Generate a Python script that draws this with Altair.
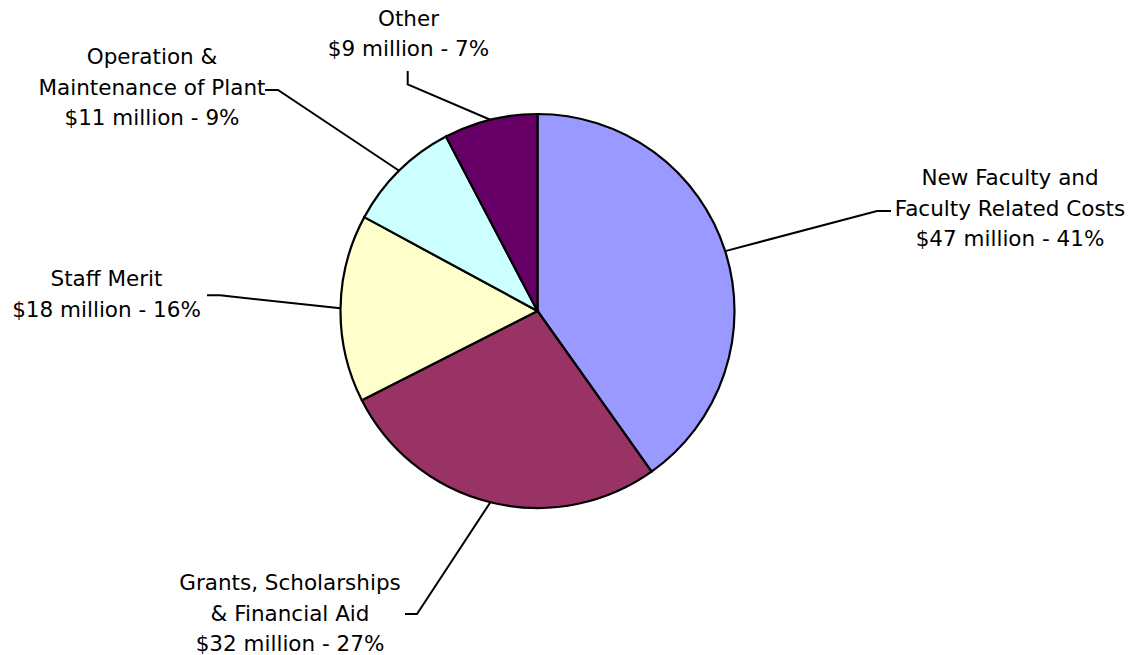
import math
import altair as alt
import pandas as pd

# ---------------- data ----------------
categories = [
    "New Faculty and\nFaculty Related Costs",
    "Grants, Scholarships\n& Financial Aid",
    "Staff Merit",
    "Operation &\nMaintenance of Plant",
    "Other",
]
amounts = [47, 32, 18, 11, 9]          # $ million
percents = [41, 27, 16, 9, 7]          # % as printed
colors = ["#9999FF", "#993366", "#FFFFCC", "#CCFFFF", "#660066"]

# ---------------- layout (page pixels) ----------------
OX, OY = 8, 8            # page margin
W, H = 1121, 630
CX, CY, R = 537.5, 310, 197
LINE_H = 30.5
FONT = "Verdana, DejaVu Sans"
FSIZE = 21.5
label_center = [(1010, 178), (290, 583), (106.5, 279), (152, 57), (408.5, 18.5)]
leader_elbow = [(877, 210), (417, 613), (220, 294.3), (278, 89), (407.7, 83.3)]
leader_end = [(891, 210), (405, 613), (207, 294.3), (265, 89), (407.7, 70)]

# ---------------- tables ----------------
pie_df = pd.DataFrame({
    "cat": categories,
    "amount": amounts,
    "idx": list(range(len(categories))),
})

total = sum(amounts)
lead_rows = []
cum = 0
for i, a in enumerate(amounts):
    mid = 2 * math.pi * (cum + a / 2) / total
    cum += a
    ex, ey = CX + R * math.sin(mid), CY - R * math.cos(mid)
    pts = [(ex, ey), leader_elbow[i], leader_end[i]]
    for k, (px, py) in enumerate(pts):
        lead_rows.append({"i": i, "k": k, "x": px, "y": py})
lead_df = pd.DataFrame(lead_rows)

text_rows = []
for i, (c, a, p) in enumerate(zip(categories, amounts, percents)):
    lines = c.split("\n") + [f"${a} million - {p}%"]
    for j, ln in enumerate(lines):
        text_rows.append({"t": ln, "x": label_center[i][0], "y": label_center[i][1] + j * LINE_H})
text_df = pd.DataFrame(text_rows)

xs = alt.Scale(domain=[OX, OX + W], nice=False, zero=False)
ys = alt.Scale(domain=[OY, OY + H], reverse=True, nice=False, zero=False)

pie = alt.Chart(pie_df).mark_arc(
    radius=R, stroke="black", strokeWidth=2.2
).encode(
    theta=alt.Theta("amount:Q", stack=True),
    order=alt.Order("idx:Q"),
    color=alt.Color("cat:N", scale=alt.Scale(domain=categories, range=colors), legend=None),
    x=alt.value(CX - OX),
    y=alt.value(CY - OY),
)

leaders = alt.Chart(lead_df).mark_line(color="black", strokeWidth=2).encode(
    x=alt.X("x:Q", scale=xs, axis=None),
    y=alt.Y("y:Q", scale=ys, axis=None),
    detail="i:N",
    order="k:Q",
)

labels = alt.Chart(text_df).mark_text(
    font=FONT, fontSize=FSIZE, color="black", align="center", baseline="middle"
).encode(
    x=alt.X("x:Q", scale=xs, axis=None),
    y=alt.Y("y:Q", scale=ys, axis=None),
    text="t:N",
)

chart = alt.layer(pie, leaders, labels).properties(
    width=W, height=H, padding=0
).configure_view(stroke=None)

chart.save("out.html", embed_options={"renderer": "svg", "actions": False})
